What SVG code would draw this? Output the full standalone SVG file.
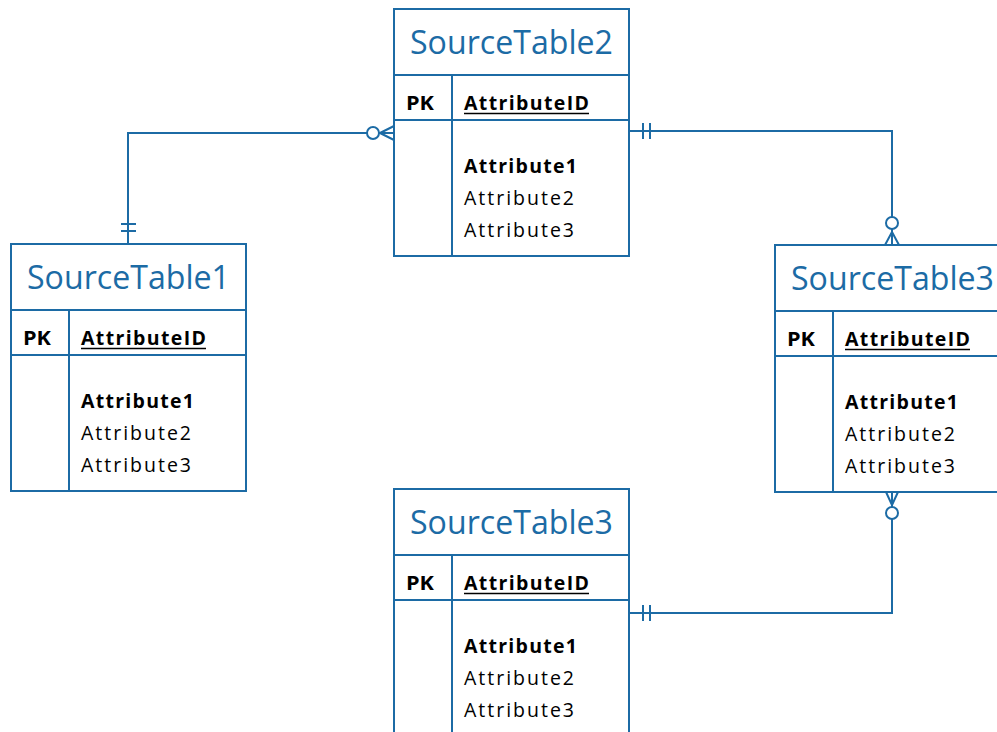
<svg xmlns="http://www.w3.org/2000/svg" width="997" height="732" viewBox="0 0 997 732">
  <style>
    .box { fill: #ffffff; stroke: #1c6ba5; stroke-width: 2; }
    .ln { fill: none; stroke: #1c6ba5; stroke-width: 2; }
    .title { font-family: "Open Sans", "Liberation Sans", Arial, sans-serif; font-size: 32px; fill: #1c6ba5; text-anchor: middle; }
    .pk { font-family: "Open Sans", "Liberation Sans", Arial, sans-serif; font-size: 19.5px; font-weight: bold; fill: #000; }
    .attr { font-family: "Open Sans", "Liberation Sans", Arial, sans-serif; font-size: 19.5px; fill: #000; }
    .bold { font-weight: bold; }
    .circ { fill: #ffffff; stroke: #1c6ba5; stroke-width: 2; }
  </style>
  <defs>
    <g id="table-frame">
      <rect class="box" x="0" y="0" width="235" height="247"/>
      <line class="ln" x1="0" y1="66" x2="235" y2="66"/>
      <line class="ln" x1="0" y1="111" x2="235" y2="111"/>
      <line class="ln" x1="58" y1="66" x2="58" y2="247"/>
      <text class="pk" x="12" y="101" textLength="28" lengthAdjust="spacingAndGlyphs">PK</text>
      <text class="pk" x="70" y="101" textLength="125" lengthAdjust="spacing">AttributeID</text>
      <line x1="70" y1="104.5" x2="195" y2="104.5" stroke="#000" stroke-width="1.5"/>
      <text class="attr bold" x="70" y="164" textLength="113" lengthAdjust="spacing">Attribute1</text>
      <text class="attr" x="70" y="196" textLength="110" lengthAdjust="spacing">Attribute2</text>
      <text class="attr" x="70" y="228" textLength="110" lengthAdjust="spacing">Attribute3</text>
    </g>
  </defs>

  <g id="connectors">
    <!-- SourceTable1 to SourceTable2 -->
    <path class="ln" d="M128,244 V133 H394"/>
    <line class="ln" x1="121" y1="224" x2="136" y2="224"/>
    <line class="ln" x1="121" y1="231" x2="136" y2="231"/>
    <path class="ln" d="M380,133 L394,126 M380,133 L394,140"/>
    <circle class="circ" cx="373" cy="133" r="6"/>
    <!-- SourceTable2 to SourceTable3 (right) -->
    <path class="ln" d="M629,131 H892 V245"/>
    <line class="ln" x1="643" y1="123" x2="643" y2="139"/>
    <line class="ln" x1="650" y1="123" x2="650" y2="139"/>
    <path class="ln" d="M892,232 L885,245 M892,232 L899,245"/>
    <circle class="circ" cx="892" cy="223" r="6"/>
    <!-- SourceTable3 (bottom) to SourceTable3 (right) -->
    <path class="ln" d="M629,613 H892 V492"/>
    <line class="ln" x1="643" y1="605" x2="643" y2="621"/>
    <line class="ln" x1="650" y1="605" x2="650" y2="621"/>
    <path class="ln" d="M892,505 L886,492 M892,505 L898,492"/>
    <circle class="circ" cx="892" cy="513" r="6"/>
  </g>

  <g id="sourcetable2" transform="translate(394,9)">
    <use href="#table-frame"/>
    <text class="title" x="117.5" y="45" textLength="203" lengthAdjust="spacingAndGlyphs">SourceTable2</text>
  </g>
  <g id="sourcetable1" transform="translate(11,244)">
    <use href="#table-frame"/>
    <text class="title" x="117.5" y="45" textLength="203" lengthAdjust="spacingAndGlyphs">SourceTable1</text>
  </g>
  <g id="sourcetable3-right" transform="translate(775,245)">
    <use href="#table-frame"/>
    <text class="title" x="117.5" y="45" textLength="203" lengthAdjust="spacingAndGlyphs">SourceTable3</text>
  </g>
  <g id="sourcetable3-bottom" transform="translate(394,489)">
    <use href="#table-frame"/>
    <text class="title" x="117.5" y="45" textLength="203" lengthAdjust="spacingAndGlyphs">SourceTable3</text>
  </g>
</svg>
